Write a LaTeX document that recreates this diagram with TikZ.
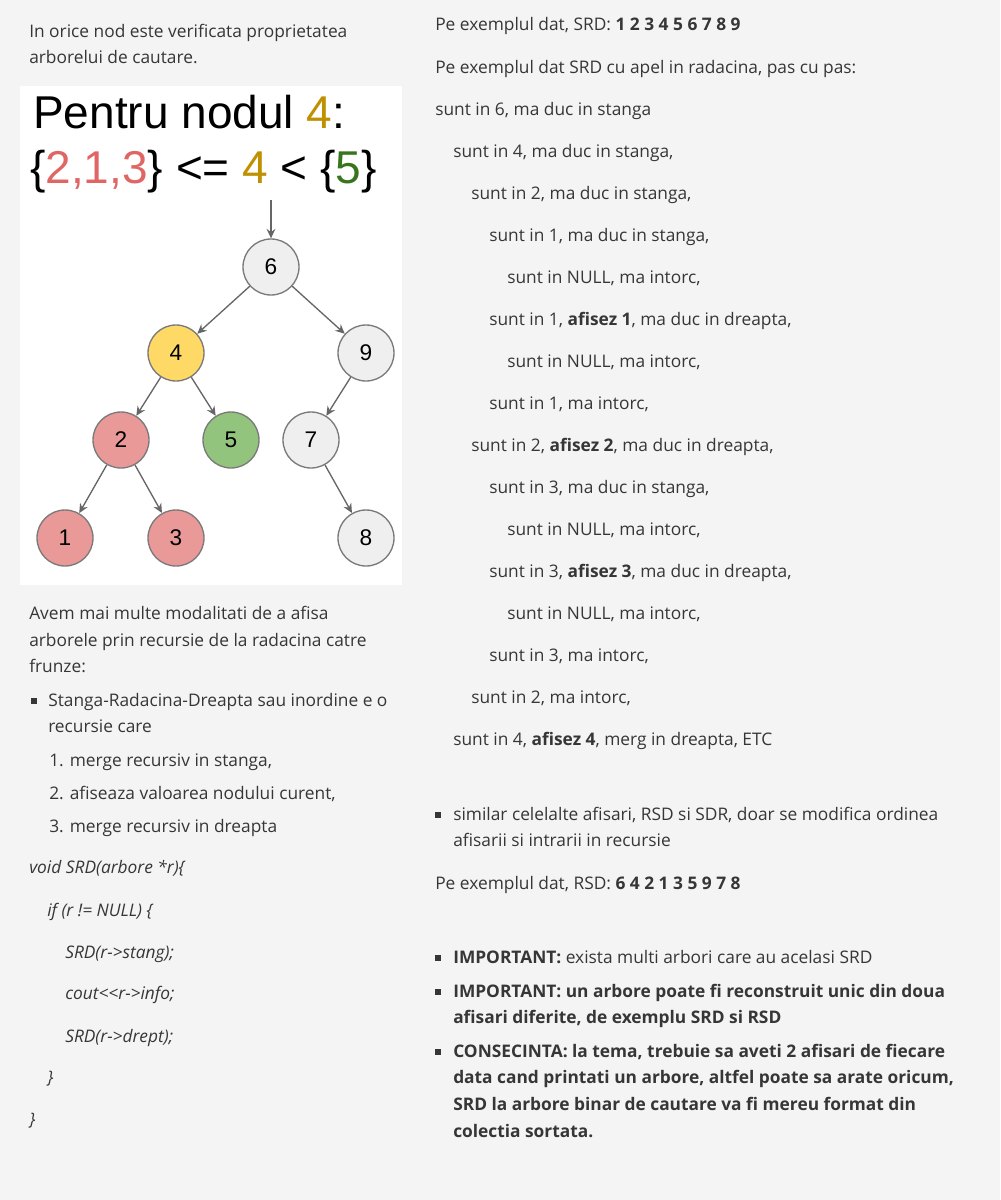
\documentclass[tikz,border=0pt]{standalone}
\usepackage{fontspec}
\setmainfont{Open Sans}
\newfontfamily\arialfont{Liberation Sans}
\usetikzlibrary{arrows.meta}
\definecolor{pagebg}{HTML}{F4F4F4}
\definecolor{textgray}{HTML}{363636}
\definecolor{edgegray}{HTML}{666666}
\definecolor{ringgray}{HTML}{7A7A7A}
\definecolor{nodegray}{HTML}{EFEFEF}
\definecolor{nodeyellow}{HTML}{FFD966}
\definecolor{nodered}{HTML}{EA9999}
\definecolor{nodegreen}{HTML}{93C47D}
\definecolor{darkyellow}{HTML}{BF9000}
\definecolor{darkred}{HTML}{E06666}
\definecolor{darkgreen}{HTML}{38761D}
\newcommand{\bodysize}{\fontsize{13}{16}\selectfont}

\begin{document}
\begin{tikzpicture}[x=0.75pt,y=-0.75pt,
	txt/.style={anchor=base west, inner sep=0pt, text=textgray, font=\bodysize},
	code/.style={txt, font=\bodysize\itshape},
	sq/.style={fill=textgray, minimum size=4.5pt, inner sep=0pt},
	title/.style={anchor=base west, inner sep=0pt, font=\arialfont\fontsize{34.5}{40}\selectfont},
	bst/.style={draw=ringgray, line width=1pt, circle, minimum size=42pt, inner sep=0pt, font=\arialfont\fontsize{17}{19}\selectfont},
	link/.style={draw=edgegray, line width=1pt, -{Stealth[length=7pt,width=6.5pt]}}]
	\useasboundingbox (0,0) rectangle (1000,1200);
	\fill[pagebg] (0,0) rectangle (1000,1200);
	\fill[white] (20,86) rectangle (402,585);

	% left column
	\node[txt] (l1) at (29,37) {In orice nod este verificata proprietatea};
	\node[txt] (l2) at (29,63) {arborelui de cautare.};

	\node[title] (t1) at (33,128) {Pentru nodul \textcolor{darkyellow}{4}:};
	\node[title] (t2) at (30,183) {\{\textcolor{darkred}{2,1,3}\} <= \textcolor{darkyellow}{4} < \{\textcolor{darkgreen}{5}\}};

	% tree
	\coordinate (in6) at (271,200);
	\node (n6) at (271,267) [bst, fill=nodegray] {6};
	\node (n4) at (176,353) [bst, fill=nodeyellow] {4};
	\node (n9) at (366,353) [bst, fill=nodegray] {9};
	\node (n2) at (121,440) [bst, fill=nodered] {2};
	\node (n5) at (231,440) [bst, fill=nodegreen] {5};
	\node (n7) at (311,440) [bst, fill=nodegray] {7};
	\node (n1) at (65,538) [bst, fill=nodered] {1};
	\node (n3) at (176,538) [bst, fill=nodered] {3};
	\node (n8) at (366,538) [bst, fill=nodegray] {8};

	\draw
	(in6) edge[link] (n6)
	(n6) edge[link] (n4)
	(n6) edge[link] (n9)
	(n4) edge[link] (n2)
	(n4) edge[link] (n5)
	(n9) edge[link] (n7)
	(n2) edge[link] (n1)
	(n2) edge[link] (n3)
	(n7) edge[link] (n8)
	;

	\node[txt] (l3) at (29,619) {Avem mai multe modalitati de a afisa};
	\node[txt] (l4) at (29,646) {arborele prin recursie de la radacina catre};
	\node[txt] (l5) at (29,672) {frunze:};
	\node[sq] (b1) at (34,701) {};
	\node[txt] (l6) at (48,706) {Stanga-Radacina-Dreapta sau inordine e o};
	\node[txt] (l7) at (48,732) {recursie care};
	\node[txt] (l8) at (49,766) {1. merge recursiv in stanga,};
	\node[txt] (l9) at (49,799) {2. afiseaza valoarea nodului curent,};
	\node[txt] (l10) at (49,832) {3. merge recursiv in dreapta};

	% code
	\node[code] (c1) at (29,873) {void SRD(arbore *r)\{};
	\node[code] (c2) at (47,916) {if (r != NULL) \{};
	\node[code] (c3) at (65,958) {SRD(r->stang);};
	\node[code] (c4) at (65,999) {cout<{}<r->info;};
	\node[code] (c5) at (65,1042) {SRD(r->drept);};
	\node[code] (c6) at (47,1083) {\}};
	\node[code] (c7) at (29,1125) {\}};

	% right column
	\node[txt] (r1) at (435,30) {Pe exemplul dat, SRD: \textbf{1 2 3 4 5 6 7 8 9}};
	\node[txt] (r2) at (435,73) {Pe exemplul dat SRD cu apel in radacina, pas cu pas:};
	\node[txt] (r3) at (435,115) {sunt in 6, ma duc in stanga};
	\node[txt] (r4) at (453,157) {sunt in 4, ma duc in stanga,};
	\node[txt] (r5) at (471,199) {sunt in 2, ma duc in stanga,};
	\node[txt] (r6) at (489,241) {sunt in 1, ma duc in stanga,};
	\node[txt] (r7) at (507,283) {sunt in NULL, ma intorc,};
	\node[txt] (r8) at (489,325) {sunt in 1, \textbf{afisez 1}, ma duc in dreapta,};
	\node[txt] (r9) at (507,367) {sunt in NULL, ma intorc,};
	\node[txt] (r10) at (489,409) {sunt in 1, ma intorc,};
	\node[txt] (r11) at (471,451) {sunt in 2, \textbf{afisez 2}, ma duc in dreapta,};
	\node[txt] (r12) at (489,493) {sunt in 3, ma duc in stanga,};
	\node[txt] (r13) at (507,535) {sunt in NULL, ma intorc,};
	\node[txt] (r14) at (489,577) {sunt in 3, \textbf{afisez 3}, ma duc in dreapta,};
	\node[txt] (r15) at (507,619) {sunt in NULL, ma intorc,};
	\node[txt] (r16) at (489,661) {sunt in 3, ma intorc,};
	\node[txt] (r17) at (471,703) {sunt in 2, ma intorc,};
	\node[txt] (r18) at (453,745) {sunt in 4, \textbf{afisez 4}, merg in dreapta, ETC};

	\node[sq] (b2) at (438,815) {};
	\node[txt] (r19) at (453,820) {similar celelalte afisari, RSD si SDR, doar se modifica ordinea};
	\node[txt] (r20) at (453,846) {afisarii si intrarii in recursie};
	\node[txt] (r21) at (435,889) {Pe exemplul dat, RSD: \textbf{6 4 2 1 3 5 9 7 8}};

	\node[sq] (b3) at (438,958) {};
	\node[txt] (r22) at (453,963) {\textbf{IMPORTANT:} exista multi arbori care au acelasi SRD};
	\node[sq] (b4) at (438,992) {};
	\node[txt] (r23) at (453,997) {\textbf{IMPORTANT: un arbore poate fi reconstruit unic din doua}};
	\node[txt] (r24) at (453,1023) {\textbf{afisari diferite, de exemplu SRD si RSD}};
	\node[sq] (b5) at (438,1052) {};
	\node[txt] (r25) at (453,1057) {\textbf{CONSECINTA: la tema, trebuie sa aveti 2 afisari de fiecare}};
	\node[txt] (r26) at (453,1083) {\textbf{data cand printati un arbore, altfel poate sa arate oricum,}};
	\node[txt] (r27) at (453,1110) {\textbf{SRD la arbore binar de cautare va fi mereu format din}};
	\node[txt] (r28) at (453,1137) {\textbf{colectia sortata.}};
\end{tikzpicture}
\end{document}
